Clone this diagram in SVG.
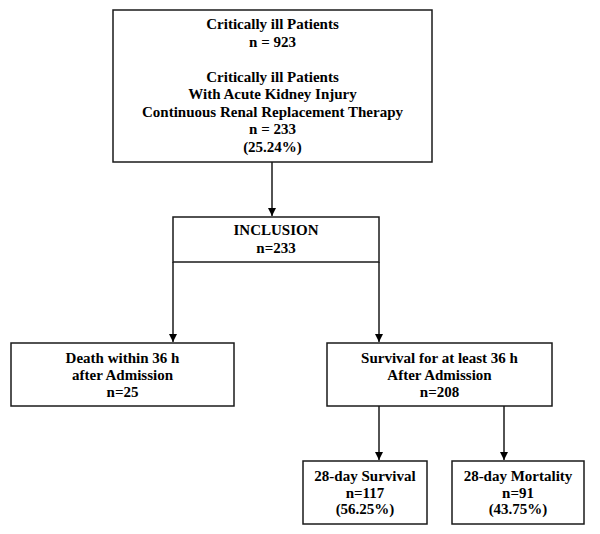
<svg xmlns="http://www.w3.org/2000/svg" width="600" height="534" viewBox="0 0 600 534">
<style>
.box{fill:#fff;stroke:#1a1a1a;stroke-width:1.5}
.t{font-family:"Liberation Serif","Times New Roman",serif;font-weight:bold;font-size:15px;fill:#000;text-anchor:middle}
.c{stroke:#1a1a1a;stroke-width:1.5;fill:none}
</style>
<defs>
<marker id="ah" markerUnits="userSpaceOnUse" markerWidth="10" markerHeight="10" refX="8" refY="4" orient="auto">
<path d="M0,0 L8,4 L0,8 Z" fill="#000"/>
</marker>
</defs>
<rect width="600" height="534" fill="#fff"/>
<g id="connectors">
<line class="c" x1="272" y1="162" x2="272" y2="216" marker-end="url(#ah)"/>
<line class="c" x1="173" y1="262" x2="173" y2="342" marker-end="url(#ah)"/>
<line class="c" x1="379" y1="262" x2="379" y2="342" marker-end="url(#ah)"/>
<line class="c" x1="379" y1="406" x2="379" y2="460" marker-end="url(#ah)"/>
<line class="c" x1="504" y1="406" x2="504" y2="460" marker-end="url(#ah)"/>
</g>
<g id="top">
<rect class="box" x="113" y="10" width="319" height="152"/>
<text class="t" x="272.5" y="29">Critically ill Patients</text>
<text class="t" x="272.5" y="46.5">n = 923</text>
<text class="t" x="272.5" y="81.5">Critically ill Patients</text>
<text class="t" x="272.5" y="99">With Acute Kidney Injury</text>
<text class="t" x="272.5" y="116.5">Continuous Renal Replacement Therapy</text>
<text class="t" x="272.5" y="134">n = 233</text>
<text class="t" x="272.5" y="151.5">(25.24%)</text>
</g>
<g id="inclusion">
<rect class="box" x="173" y="217" width="206" height="45"/>
<text class="t" x="276" y="235">INCLUSION</text>
<text class="t" x="276" y="253">n=233</text>
</g>
<g id="death">
<rect class="box" x="11" y="343" width="223" height="63"/>
<text class="t" x="122.5" y="363">Death within 36 h</text>
<text class="t" x="122.5" y="380">after Admission</text>
<text class="t" x="122.5" y="397">n=25</text>
</g>
<g id="survival36">
<rect class="box" x="327" y="343" width="225" height="63"/>
<text class="t" x="439.5" y="363">Survival for at least 36 h</text>
<text class="t" x="439.5" y="380">After Admission</text>
<text class="t" x="439.5" y="397">n=208</text>
</g>
<g id="survival28">
<rect class="box" x="303" y="461" width="124" height="63"/>
<text class="t" x="365" y="481">28-day Survival</text>
<text class="t" x="365" y="497.5">n=117</text>
<text class="t" x="365" y="514">(56.25%)</text>
</g>
<g id="mortality28">
<rect class="box" x="452" y="461" width="132" height="63"/>
<text class="t" x="518" y="481">28-day Mortality</text>
<text class="t" x="518" y="497.5">n=91</text>
<text class="t" x="518" y="514">(43.75%)</text>
</g>
</svg>
